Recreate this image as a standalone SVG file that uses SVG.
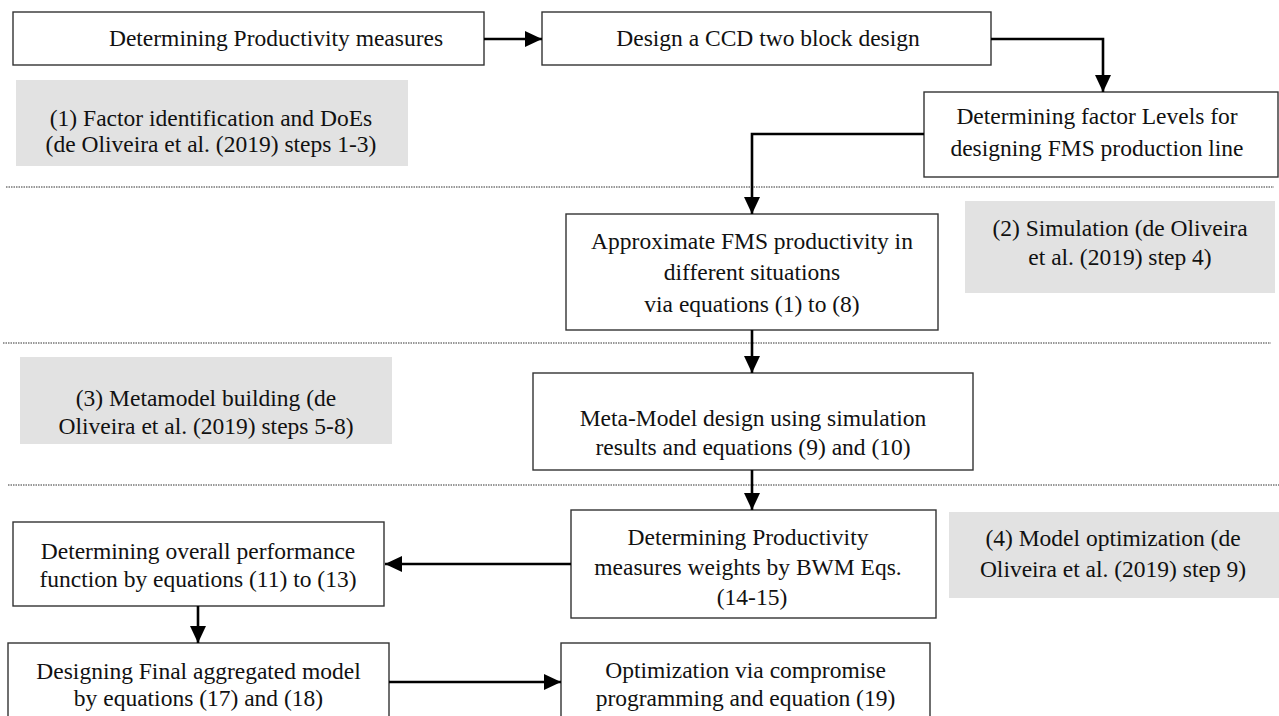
<svg xmlns="http://www.w3.org/2000/svg" width="1279" height="716" viewBox="0 0 1279 716">
<style>
.box{fill:#fff;stroke:#333;stroke-width:1.4}
.note{fill:#e2e2e2;stroke:none}
.t{font-family:"Liberation Serif","Times New Roman",serif;font-size:23.5px;fill:#111;text-anchor:middle}
.sep{stroke:#333;stroke-width:1;stroke-dasharray:1.5 1;fill:none}
.con{stroke:#000;stroke-width:2.6;fill:none;marker-end:url(#ah)}
</style>
<defs>
<marker id="ah" markerUnits="userSpaceOnUse" markerWidth="17" markerHeight="16" refX="17" refY="8" orient="auto">
<path d="M0,0 L17,8 L0,16 z" fill="#000"/>
</marker>
</defs>
<rect width="1279" height="716" fill="#fff"/>
<g id="separators">
<line class="sep" x1="6" y1="187" x2="1274" y2="187"/>
<line class="sep" x1="3" y1="343" x2="1271" y2="343"/>
<line class="sep" x1="8" y1="485" x2="1279" y2="485"/>
</g>
<g id="note1"><rect class="note" x="16" y="80" width="392" height="86"/>
<text class="t" x="211" y="126">(1) Factor identification and DoEs</text>
<text class="t" x="211" y="152">(de Oliveira et al. (2019) steps 1-3)</text></g>
<g id="note2"><rect class="note" x="965" y="201" width="310" height="92"/>
<text class="t" x="1120" y="236">(2) Simulation (de Oliveira</text>
<text class="t" x="1120" y="265">et al. (2019) step 4)</text></g>
<g id="note3"><rect class="note" x="20" y="357" width="372" height="87"/>
<text class="t" x="206" y="406">(3) Metamodel building (de</text>
<text class="t" x="206" y="434">Oliveira et al. (2019) steps 5-8)</text></g>
<g id="note4"><rect class="note" x="949" y="512" width="330" height="86"/>
<text class="t" x="1113" y="546">(4) Model optimization (de</text>
<text class="t" x="1113" y="577">Oliveira et al. (2019) step 9)</text></g>
<g id="n1"><rect class="box" x="13" y="12" width="471" height="53"/>
<text class="t" x="276" y="46">Determining Productivity measures</text></g>
<g id="n2"><rect class="box" x="542" y="12" width="449" height="53"/>
<text class="t" x="768" y="46">Design a CCD two block design</text></g>
<g id="n3"><rect class="box" x="924" y="92" width="354" height="85"/>
<text class="t" x="1097" y="124">Determining factor Levels for</text>
<text class="t" x="1097" y="156">designing FMS production line</text></g>
<g id="n4"><rect class="box" x="566" y="214" width="372" height="116"/>
<text class="t" x="752" y="249">Approximate FMS productivity in</text>
<text class="t" x="752" y="280">different situations</text>
<text class="t" x="752" y="312">via equations (1) to (8)</text></g>
<g id="n5"><rect class="box" x="533" y="373" width="440" height="97"/>
<text class="t" x="753" y="426">Meta-Model design using simulation</text>
<text class="t" x="753" y="455">results and equations (9) and (10)</text></g>
<g id="n6"><rect class="box" x="571" y="510" width="365" height="108"/>
<text class="t" x="748" y="545">Determining Productivity</text>
<text class="t" x="748" y="575">measures weights by BWM Eqs.</text>
<text class="t" x="752" y="605">(14-15)</text></g>
<g id="n7"><rect class="box" x="13" y="522" width="371" height="84"/>
<text class="t" x="198" y="559">Determining overall performance</text>
<text class="t" x="198" y="587">function by equations (11) to (13)</text></g>
<g id="n8"><rect class="box" x="8" y="643" width="381" height="80"/>
<text class="t" x="198.5" y="679">Designing Final aggregated model</text>
<text class="t" x="198.5" y="706">by equations (17) and (18)</text></g>
<g id="n9"><rect class="box" x="561" y="643" width="369" height="80"/>
<text class="t" x="745.5" y="678">Optimization via compromise</text>
<text class="t" x="745.5" y="706">programming and equation (19)</text></g>
<g id="connectors">
<path class="con" d="M484,39 H542"/>
<path class="con" d="M991,39 H1103 V92"/>
<path class="con" d="M924,134 H752 V214"/>
<path class="con" d="M752,330 V373"/>
<path class="con" d="M752,470 V510"/>
<path class="con" d="M571,564 H385"/>
<path class="con" d="M198,606 V643"/>
<path class="con" d="M389,682 H561"/>
</g>
</svg>
